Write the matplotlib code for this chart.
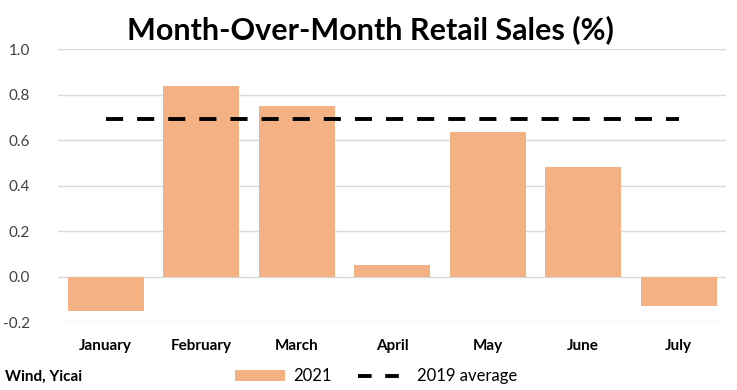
import numpy as np
from matplotlib import pyplot as plt
from matplotlib.lines import Line2D
from matplotlib.patches import Patch

months = ['January', 'February', 'March', 'April', 'May', 'June', 'July']
sales_2021 = [-0.15, 0.84, 0.75, 0.053, 0.637, 0.48, -0.127]
avg_2019 = [0.695] * 7
yticks = [-0.2, 0.0, 0.2, 0.4, 0.6, 0.8, 1.0]

plt.rcParams['font.family'] = ['Lato', 'DejaVu Sans']

fig = plt.figure(figsize=(7.37, 3.9), dpi=100)
ax = fig.add_axes([0.0787, 0.174, 0.907, 0.7])

x = np.arange(len(months))
ax.bar(x, sales_2021, width=0.8, color='#F4B183', zorder=2)
ax.plot(x, avg_2019, color='black', linestyle=(0, (4.4, 3.6)), linewidth=2.8, zorder=3)

ax.set_xlim(-0.5, len(months) - 0.5)
ax.set_ylim(-0.2, 1.0)
ax.set_yticks(yticks)
ax.set_yticklabels(['%.1f' % v for v in yticks], fontsize=11, color='#404040')
ax.set_xticks(x)
ax.set_xticklabels(months, fontsize=11, fontweight='bold', color='black')
ax.tick_params(axis='both', length=0)
ax.tick_params(axis='x', pad=12)
ax.tick_params(axis='y', pad=20)
ax.grid(axis='y', color='#d9d9d9', linewidth=1, zorder=0)
for s in ax.spines.values():
    s.set_visible(False)

fig.text(0.502, 0.925, 'Month-Over-Month Retail Sales (%)', ha='center', va='center',
         fontsize=22, fontweight='bold')
fig.text(0.007, 0.035, 'Wind, Yicai', ha='left', va='center', fontsize=11, fontweight='bold')

handles = [Patch(facecolor='#F4B183', label='2021'),
           Line2D([0], [0], color='black', linestyle=(0, (3.5, 3.5)), linewidth=2.8, label='2019 average')]
fig.legend(handles=handles, loc='center', bbox_to_anchor=(0.51, 0.035), ncol=2, frameon=False,
           fontsize=12, handlelength=3.0, handleheight=0.6, columnspacing=1.6, handletextpad=0.5)

plt.savefig('out.png', dpi=100)
